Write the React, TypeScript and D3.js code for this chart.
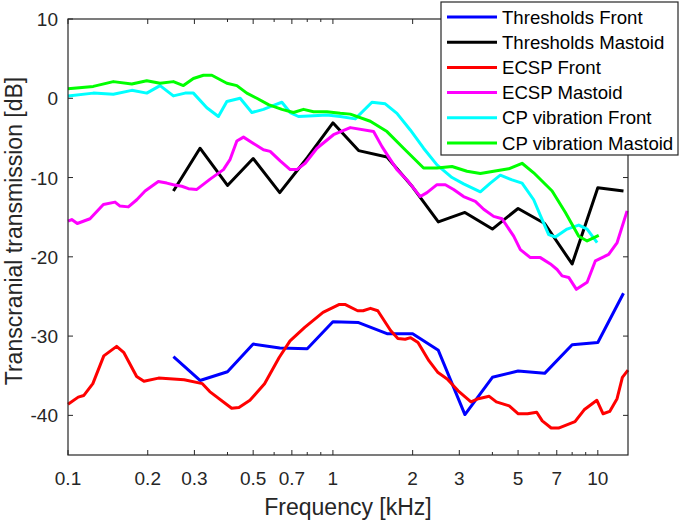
import React from 'react'
import * as d3 from 'd3'

// frequency [kHz], value [dB]
const thrFreq = [0.25, 0.315, 0.4, 0.5, 0.63, 0.8, 1, 1.25, 1.6, 2, 2.5, 3.15, 4, 5, 6.3, 8, 10, 12.5]
const thrFront = [-32.6, -35.6, -34.5, -31.0, -31.5, -31.6, -28.2, -28.3, -29.7, -29.7, -31.8, -39.9, -35.2, -34.4, -34.7, -31.1, -30.8, -24.6]
const thrMastoid = [-11.7, -6.3, -11.0, -7.6, -11.9, -7.5, -3.1, -6.6, -7.4, -11.2, -15.6, -14.4, -16.5, -13.9, -15.8, -20.9, -11.3, -11.7]

const ecspFrontFreq = [0.1, 0.1093, 0.1146, 0.1241, 0.1365, 0.1526, 0.1626, 0.1816, 0.1935, 0.2197, 0.2745, 0.3216, 0.3428, 0.4148, 0.4419, 0.4862, 0.5521, 0.6268, 0.689, 0.7826, 0.9176, 1.058, 1.11, 1.24, 1.3, 1.386, 1.477, 1.651, 1.759, 1.874, 1.966, 2.095, 2.303, 2.493, 2.7, 2.97, 3.32, 3.54, 3.89, 4.14, 4.63, 5.01, 5.43, 5.88, 6.17, 6.67, 7.11, 8.2, 8.88, 9.92, 10.47, 11.09, 11.82, 12.38, 13]
const ecspFront = [-38.6, -37.7, -37.5, -36.0, -32.5, -31.3, -32.1, -35.1, -35.7, -35.3, -35.5, -36.0, -37.0, -39.1, -39.0, -38.1, -36.0, -32.7, -30.6, -28.9, -27.0, -26.0, -26.0, -26.8, -26.8, -26.5, -26.8, -29.3, -30.3, -30.4, -30.2, -30.8, -33.1, -34.6, -35.4, -36.9, -38.3, -37.9, -37.6, -38.3, -38.8, -39.8, -39.8, -39.6, -40.7, -41.6, -41.6, -40.8, -39.3, -38.1, -39.8, -39.5, -37.9, -35.2, -34.3]

const ecspMastoidFreq = [0.1, 0.1033, 0.1084, 0.1211, 0.136, 0.1505, 0.1572, 0.169, 0.1818, 0.1954, 0.2193, 0.236, 0.2499, 0.2689, 0.2848, 0.3064, 0.344, 0.3861, 0.4093, 0.4339, 0.4597, 0.5012, 0.5468, 0.5796, 0.6324, 0.6898, 0.7311, 0.786, 0.8703, 1.005, 1.163, 1.424, 1.532, 1.646, 1.745, 1.904, 2.137, 2.265, 2.471, 2.657, 2.855, 3.114, 3.449, 3.707, 4.044, 4.35, 4.813, 5.101, 5.564, 6.068, 6.622, 7.018, 7.331, 7.764, 8.303, 9.114, 9.793, 10.99, 11.83, 12.9]
const ecspMastoid = [-15.5, -15.3, -15.8, -15.2, -13.4, -13.1, -13.6, -13.7, -12.8, -11.7, -10.5, -10.7, -10.9, -11.1, -11.4, -11.5, -10.2, -9.0, -7.7, -5.4, -4.9, -5.7, -6.5, -6.7, -7.9, -9.0, -9.0, -8.2, -6.3, -4.6, -3.7, -4.2, -6.1, -7.7, -9.0, -10.3, -12.4, -11.9, -10.9, -10.9, -11.5, -12.4, -13.0, -14.0, -14.9, -15.2, -17.4, -19.1, -20.1, -20.1, -20.9, -21.6, -22.4, -22.6, -24.1, -23.2, -20.5, -19.7, -18.2, -14.2]

const cpFrontFreq = [0.1, 0.1246, 0.1483, 0.1741, 0.1983, 0.2226, 0.2499, 0.2767, 0.2974, 0.3342, 0.3696, 0.3978, 0.4465, 0.4943, 0.5468, 0.5966, 0.6418, 0.6898, 0.7413, 0.8451, 0.9491, 1.066, 1.214, 1.404, 1.576, 1.745, 1.959, 2.199, 2.471, 2.816, 3.114, 3.602, 3.929, 4.285, 4.746, 5.176, 5.727, 6.163, 6.525, 6.916, 7.656, 8.472, 9.114, 9.94]
const cpFront = [0.3, 0.65, 0.5, 1.0, 0.65, 1.6, 0.3, 0.65, 0.65, -1.2, -2.3, -0.4, 0.0, -1.8, -1.4, -0.9, -0.5, -1.8, -2.3, -2.2, -2.1, -2.3, -2.6, -0.5, -0.7, -1.9, -4.0, -6.3, -8.4, -10.0, -10.8, -11.8, -10.7, -9.7, -10.3, -10.7, -12.8, -15.3, -17.2, -17.5, -16.5, -16.0, -16.5, -18.2]

const cpMastoidFreq = [0.1, 0.1246, 0.1483, 0.1741, 0.1983, 0.2226, 0.2499, 0.2727, 0.2974, 0.3245, 0.3491, 0.3978, 0.4339, 0.4732, 0.5162, 0.5711, 0.6418, 0.7099, 0.7743, 0.8451, 0.9491, 1.066, 1.163, 1.384, 1.6, 1.848, 2.199, 2.471, 2.816, 3.207, 3.602, 4.044, 4.607, 5.176, 5.727, 6.722, 7.544, 8.472, 9.114, 10.08]
const cpMastoid = [1.2, 1.5, 2.1, 1.8, 2.2, 1.9, 2.1, 1.6, 2.5, 2.9, 2.9, 1.9, 1.6, 0.65, 0.0, -0.8, -1.4, -1.8, -1.4, -1.7, -1.7, -1.9, -2.0, -2.9, -4.2, -6.3, -8.8, -8.8, -8.6, -9.2, -9.5, -9.2, -8.9, -8.2, -9.4, -11.7, -14.4, -17.4, -18.0, -17.3]

const xTicks = [0.1, 0.2, 0.3, 0.5, 0.7, 1, 2, 3, 5, 7, 10]
const xMinor = [0.4, 0.6, 0.8, 0.9, 4, 6, 8, 9]
const yTicks = [-40, -30, -20, -10, 0, 10]

const series = [
  { name: 'Thresholds Front', color: '#0000ff', f: thrFreq, v: thrFront },
  { name: 'Thresholds Mastoid', color: '#000000', f: thrFreq, v: thrMastoid },
  { name: 'ECSP Front', color: '#ff0000', f: ecspFrontFreq, v: ecspFront },
  { name: 'ECSP Mastoid', color: '#ff00ff', f: ecspMastoidFreq, v: ecspMastoid },
  { name: 'CP vibration Front', color: '#00ffff', f: cpFrontFreq, v: cpFront },
  { name: 'CP vibration Mastoid', color: '#00ff00', f: cpMastoidFreq, v: cpMastoid }
]

const W = 680
const H = 522
const m = { left: 68, top: 19, right: 628, bottom: 455 }
const font = 'Liberation Sans, Arial, sans-serif'

export default function App() {
  const x = d3.scaleLog().domain([0.1, 13]).range([m.left, m.right])
  const y = d3.scaleLinear().domain([-45, 10]).range([m.bottom, m.top])

  const line = d3.line<[number, number]>()
    .x(d => x(d[0]))
    .y(d => y(d[1]))

  const tickLen = 5
  const minorLen = 3

  return (
    <svg width={W} height={H} style={{ position: 'absolute', left: 0, top: 0, background: '#fff' }} fontFamily={font}>
      <rect x={0} y={0} width={W} height={H} fill="#fff" />

      {/* lines */}
      {series.map(s => (
        <path
          key={s.name}
          d={line(s.f.map((f, i) => [f, s.v[i]] as [number, number])) || ''}
          fill="none"
          stroke={s.color}
          strokeWidth={3}
          strokeLinejoin="round"
        />
      ))}

      {/* box */}
      <rect x={m.left} y={m.top} width={m.right - m.left} height={m.bottom - m.top} fill="none" stroke="#262626" strokeWidth={1.2} />

      {/* x ticks */}
      {xTicks.map(t => (
        <g key={'xt' + t}>
          <line x1={x(t)} x2={x(t)} y1={m.bottom} y2={m.bottom - tickLen} stroke="#262626" />
          <line x1={x(t)} x2={x(t)} y1={m.top} y2={m.top + tickLen} stroke="#262626" />
          <text x={x(t)} y={485} textAnchor="middle" fontSize={19} fill="#262626">{t}</text>
        </g>
      ))}
      {xMinor.map(t => (
        <g key={'xm' + t}>
          <line x1={x(t)} x2={x(t)} y1={m.bottom} y2={m.bottom - minorLen} stroke="#262626" />
          <line x1={x(t)} x2={x(t)} y1={m.top} y2={m.top + minorLen} stroke="#262626" />
        </g>
      ))}

      {/* y ticks */}
      {yTicks.map(t => (
        <g key={'yt' + t}>
          <line x1={m.left} x2={m.left + tickLen} y1={y(t)} y2={y(t)} stroke="#262626" />
          <line x1={m.right} x2={m.right - tickLen} y1={y(t)} y2={y(t)} stroke="#262626" />
          <text x={58} y={y(t) + 7} textAnchor="end" fontSize={19} fill="#262626">{t}</text>
        </g>
      ))}

      {/* axis labels */}
      <text x={(m.left + m.right) / 2} y={515} textAnchor="middle" fontSize={23} fill="#262626">Frequency [kHz]</text>
      <text transform={`translate(22,${231}) rotate(-90)`} textAnchor="middle" fontSize={23} fill="#262626">Transcranial transmission [dB]</text>

      {/* legend */}
      <rect x={441} y={2} width={237} height={153} fill="#fff" stroke="#262626" strokeWidth={1.2} />
      {series.map((s, i) => {
        const ly = 17 + i * 25.2
        return (
          <g key={'lg' + s.name}>
            <line x1={447} x2={497} y1={ly} y2={ly} stroke={s.color} strokeWidth={3} />
            <text x={502} y={ly + 6.5} fontSize={18.6} fill="#000">{s.name}</text>
          </g>
        )
      })}
    </svg>
  )
}
